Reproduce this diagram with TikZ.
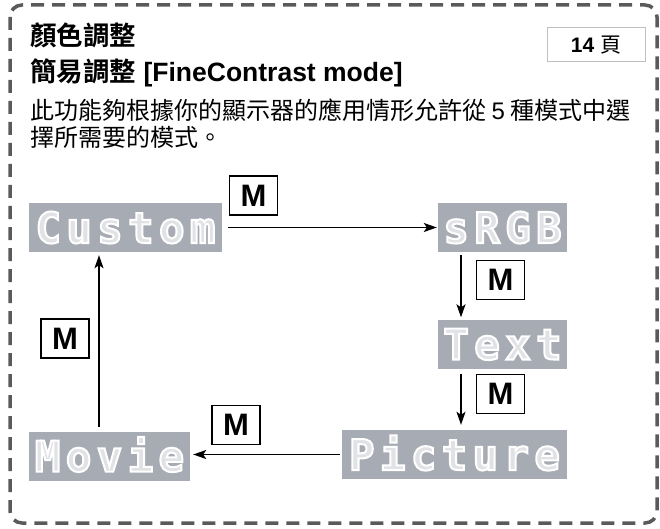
\documentclass[tikz,border=0pt]{standalone}
\usepackage{fontspec}
\setmainfont{Liberation Sans}
\newfontfamily\cjk{Noto Sans CJK TC}[BoldFont={Noto Sans CJK TC Bold}]
\newfontfamily\pixfont{DejaVu Sans Mono}[LetterSpace=12.5]
\usetikzlibrary{arrows.meta}

\definecolor{modebg}{HTML}{A7ABB3}
\definecolor{modefg}{HTML}{E1E2E6}
\definecolor{framegray}{HTML}{5A5A5A}
\newcommand{\modetext}[1]{\textcolor{modefg}{\special{pdf:literal direct 1 1 1 RG 2 w 2 Tr}#1\special{pdf:literal direct 0 Tr}}}

\begin{document}
\begin{tikzpicture}[x=1pt,y=-1pt,
	mode/.style={fill=modebg,minimum height=49pt,inner sep=0pt,text height=31pt,text depth=0pt,font=\pixfont\bfseries\fontsize{42.5}{42.5}\selectfont},
	mkey/.style={draw=black,line width=1.5pt,minimum width=48pt,minimum height=39pt,inner sep=0pt,font=\bfseries\fontsize{31}{31}\selectfont},
	flow/.style={-{Stealth[length=13pt,width=9pt,inset=3pt]},line width=1.5pt},
	line/.style={anchor=base west,inner sep=0pt}]
	\useasboundingbox (0,0) rectangle (660,529);
	\draw[framegray,line width=3.5pt,dash pattern=on 13pt off 8pt,rounded corners=12pt] (10,5) rectangle (657,523);
	
	\node[line,font=\cjk\bfseries\fontsize{26.5}{26.5}\selectfont] (title) at (30,46) {顏色調整};
	\node[line,font=\bfseries\fontsize{26.5}{26.5}\selectfont] (subtitle) at (30,82) {{\cjk 簡易調整} [FineContrast mode]};
	\node[line,font=\cjk\fontsize{24}{24}\selectfont] (desc1) at (30,120) {此功能夠根據你的顯示器的應用情形允許從 {\rmfamily 5} 種模式中選};
	\node[line,font=\cjk\fontsize{24}{24}\selectfont] (desc2) at (30,147) {擇所需要的模式。};
	\node[draw=gray!50,line width=1pt,minimum width=98pt,minimum height=34pt,inner sep=0pt,font=\fontsize{21}{21}\selectfont] (page) at (596,45) {\textbf{14} {\cjk 頁}};
	
	\node[mode,minimum width=193pt] (custom) at (125.5,227.5) {\modetext{Custom}};
	\node[mode,minimum width=129pt] (srgb) at (502.5,227.5) {\modetext{sRGB}};
	\node[mode,minimum width=129pt] (textm) at (502.5,344) {\modetext{Text}};
	\node[mode,minimum width=225pt] (picture) at (454.5,454.5) {\modetext{Picture}};
	\node[mode,minimum width=161pt] (movie) at (109.5,456) {\modetext{Movie}};
	
	\draw[flow,shorten <=6pt,shorten >=1pt] (custom) -- (srgb);
	\draw[flow,shorten <=3pt,shorten >=2pt] ([xshift=-41.5pt]srgb.south) -- ([xshift=-41.5pt]textm.north);
	\draw[flow,shorten <=5pt,shorten >=5pt] ([xshift=-41.5pt]textm.south) -- ([xshift=6.5pt]picture.north);
	\draw[flow,shorten <=2pt,shorten >=3pt] (picture.west) -- (picture.west -| movie.east);
	\draw[flow,shorten <=4pt,shorten >=3pt] ([xshift=-10.5pt]movie.north) -- ([xshift=-26.5pt]custom.south);
	
	\node[mkey] (m1) at (253.5,195.5) {M};
	\node[mkey] (m2) at (500.5,280) {M};
	\node[mkey] (m3) at (500.5,394) {M};
	\node[mkey] (m4) at (236,425) {M};
	\node[mkey] (m5) at (65,338.5) {M};
\end{tikzpicture}
\end{document}
